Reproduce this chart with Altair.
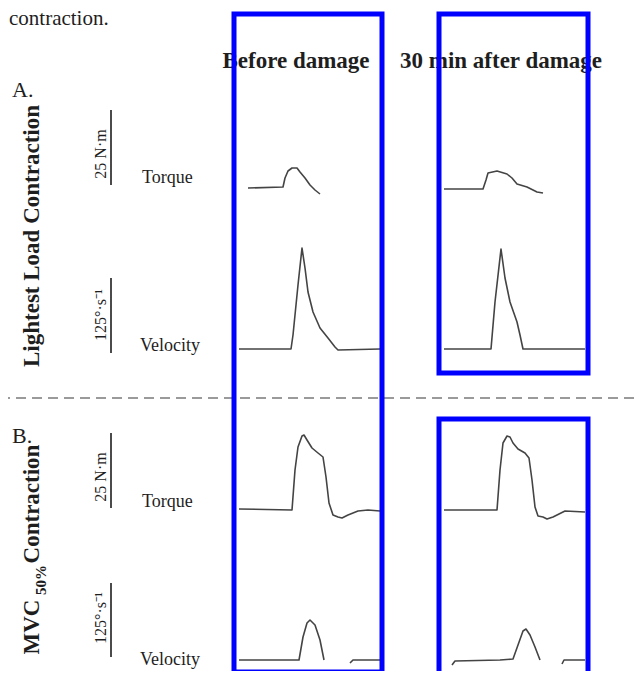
import altair as alt
import pandas as pd

# ---------------- data: traces (t = samples from panel start, v = signal above baseline) -------------
a_before_torque_t = [9, 44, 46, 49, 53, 58, 61, 66, 71, 76, 81]
a_before_torque_v = [0, 1, 10, 17, 20, 20, 16, 10, 3, -2, -6]
a_after_torque_t = [0, 39, 42, 44, 53, 63, 68, 73, 83, 93, 99]
a_after_torque_v = [-1, -1, 8, 15, 17, 14, 10, 4, 1, -4, -5]

a_before_vel_t = [0, 52, 54, 59, 63, 66, 69, 74, 81, 89, 96, 99, 141]
a_before_vel_v = [0, 0, 14, 64, 101, 81, 57, 37, 21, 11, 2, -1, 0]
a_after_vel_t = [0, 47, 51, 57, 61, 66, 73, 76, 79, 141]
a_after_vel_v = [0, 0, 47, 100, 71, 47, 27, 14, 0, 0]

b_before_torque_t = [0, 53, 56, 59, 63, 65, 68, 73, 79, 84, 87, 90, 94, 99, 103, 109, 119, 129, 141]
b_before_torque_v = [1, 0, 40, 63, 74, 75, 70, 62, 57, 53, 33, 7, -5, -7, -8, -5, -1, 0, -1]
b_after_torque_t = [0, 53, 56, 59, 63, 66, 69, 74, 81, 85, 88, 91, 94, 99, 103, 109, 121, 141]
b_after_torque_v = [0, 0, 40, 67, 74, 73, 67, 61, 57, 52, 30, 3, -6, -7, -9, -7, -1, -2]

b_before_vel1_t = [0, 60, 64, 68, 71, 76, 81, 85]
b_before_vel1_v = [0, 0, 23, 37, 40, 35, 20, 0]
b_before_vel2_t = [111, 114, 141]
b_before_vel2_v = [-3, 0, 0]
b_after_vel1_t = [8, 11, 56, 69, 74, 79, 82, 86, 91, 96]
b_after_vel1_v = [-5, -1, 0, 1, 15, 29, 31, 25, 13, 0]
b_after_vel2_t = [118, 120, 141]
b_after_vel2_v = [-4, 0, 0]

columns = ["Before damage", "30 min after damage"]
row_titles = ["Lightest Load Contraction", "Contraction"]
panel_letters = ["A.", "B."]
signal_names = ["Torque", "Velocity"]
scale_labels = ["25 N·m", "125°·s⁻¹"]

# ---------------- layout (screen pixels) ----------------
col_x0 = {"before": 239, "after": 444}
row_base = {"At": 188, "Av": 349, "Bt": 510, "Bv": 660}

traces = [
    ("before", "At", a_before_torque_t, a_before_torque_v),
    ("after", "At", a_after_torque_t, a_after_torque_v),
    ("before", "Av", a_before_vel_t, a_before_vel_v),
    ("after", "Av", a_after_vel_t, a_after_vel_v),
    ("before", "Bt", b_before_torque_t, b_before_torque_v),
    ("after", "Bt", b_after_torque_t, b_after_torque_v),
    ("before", "Bv", b_before_vel1_t, b_before_vel1_v),
    ("before", "Bv", b_before_vel2_t, b_before_vel2_v),
    ("after", "Bv", b_after_vel1_t, b_after_vel1_v),
    ("after", "Bv", b_after_vel2_t, b_after_vel2_v),
]
rows = []
for i, (c, r, ts, vs) in enumerate(traces):
    for k, (t, v) in enumerate(zip(ts, vs)):
        rows.append({"trace": i, "k": k, "x": col_x0[c] + t, "y": row_base[r] - v})
trace_df = pd.DataFrame(rows)

X = alt.Scale(domain=[8, 635], nice=False, zero=False)
Y = alt.Scale(domain=[8, 671], nice=False, zero=False, reverse=True)
FONT = "Liberation Serif"
INK = "#1e1e1e"

lines = alt.Chart(trace_df).mark_line(color="#444444", strokeWidth=1.6, strokeJoin="round").encode(
    x=alt.X("x:Q", scale=X, axis=None),
    y=alt.Y("y:Q", scale=Y, axis=None),
    detail="trace:N",
    order="k:Q",
)

def texts(df, **kw):
    return alt.Chart(pd.DataFrame(df)).mark_text(font=FONT, color=INK, **kw).encode(
        x=alt.X("x:Q", scale=X, axis=None),
        y=alt.Y("y:Q", scale=Y, axis=None),
        text="t:N",
    )

caption = texts([{"t": "contraction.", "x": 9, "y": 25}], fontSize=21, align="left", baseline="alphabetic")
headers = texts([{"t": columns[0], "x": 296, "y": 68}, {"t": columns[1], "x": 501, "y": 68}],
                fontSize=23, fontWeight="bold", align="center", baseline="alphabetic")
letters = texts([{"t": panel_letters[0], "x": 12, "y": 97}, {"t": panel_letters[1], "x": 12, "y": 443}],
                fontSize=22, align="left", baseline="alphabetic")
rowtitle = texts([{"t": row_titles[0], "x": 39, "y": 236}, {"t": "MVC", "x": 39, "y": 627},
                  {"t": row_titles[1], "x": 39, "y": 504}],
                 fontSize=23, fontWeight="bold", align="center", baseline="alphabetic", angle=270)
subscript = texts([{"t": "50%", "x": 46, "y": 580}],
                  fontSize=15, fontWeight="bold", align="center", baseline="alphabetic", angle=270)
scalelab = texts([{"t": scale_labels[0], "x": 106, "y": 154}, {"t": scale_labels[1], "x": 106, "y": 315},
                  {"t": scale_labels[0], "x": 106, "y": 477}, {"t": scale_labels[1], "x": 106, "y": 618}],
                 fontSize=16, align="center", baseline="alphabetic", angle=270)
siglab = texts([{"t": signal_names[0], "x": 142, "y": 183}, {"t": signal_names[1], "x": 140, "y": 351},
                {"t": signal_names[0], "x": 142, "y": 507}, {"t": signal_names[1], "x": 140, "y": 665}],
               fontSize=18, align="left", baseline="alphabetic")

bars = alt.Chart(pd.DataFrame({"x": [111] * 4, "y": [110, 278, 433, 583], "y2": [185, 353, 508, 657]})).mark_rule(
    color=INK, strokeWidth=1.6).encode(
    x=alt.X("x:Q", scale=X, axis=None), y=alt.Y("y:Q", scale=Y, axis=None), y2="y2:Q")

divider = alt.Chart(pd.DataFrame({"x": [0], "x2": [643], "y": [398]})).mark_rule(
    color="#9a9a9a", strokeWidth=2, strokeDash=[10, 6]).encode(
    x=alt.X("x:Q", scale=X, axis=None), x2="x2:Q", y=alt.Y("y:Q", scale=Y, axis=None))

boxes = alt.Chart(pd.DataFrame({"x": [234, 439, 439], "x2": [382, 588, 588],
                                "y": [14, 14, 419], "y2": [672, 373, 684]})).mark_rect(
    filled=False, stroke="#0000ff", strokeWidth=5).encode(
    x=alt.X("x:Q", scale=X, axis=None), x2="x2:Q",
    y=alt.Y("y:Q", scale=Y, axis=None), y2="y2:Q")

chart = alt.layer(caption, headers, letters, rowtitle, subscript, scalelab, siglab, bars, lines, divider, boxes).properties(
    width=627, height=663, padding=0, autosize=alt.AutoSizeParams(type="none"),
).configure_view(stroke=None)

chart.save("out.html", embed_options={"renderer": "svg", "actions": False})
